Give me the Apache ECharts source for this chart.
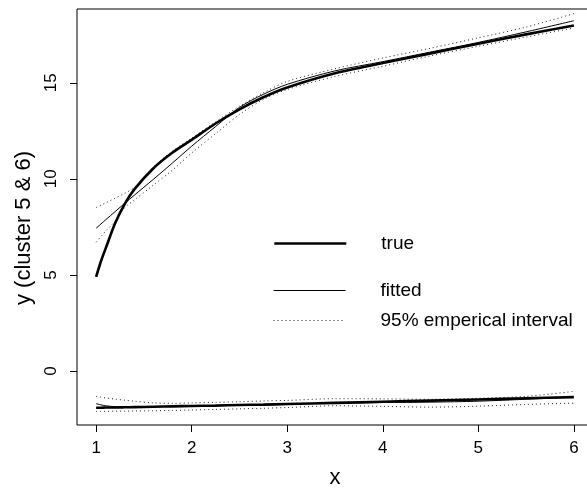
<!DOCTYPE html>
<html>
<head>
<meta charset="utf-8">
<script src="https://cdn.jsdelivr.net/npm/echarts@6/dist/echarts.min.js"></script>
<style>
  html, body { margin: 0; padding: 0; background: #fff; }
  #chart { width: 587px; height: 488px; }
</style>
</head>
<body>
<div id="chart"></div>
<script>
// x positions shared by every curve
const xs = [1, 1.05, 1.1, 1.2, 1.3, 1.4, 1.6, 1.8, 2, 2.25, 2.5, 2.75, 3, 3.5, 4, 4.5, 5, 5.5, 6];

// cluster 5 (upper group)
const trueUpper   = [4.9, 5.7, 6.38, 7.7, 8.7, 9.45, 10.55, 11.37, 12.03, 12.88, 13.62, 14.25, 14.76, 15.5, 16.03, 16.53, 17.03, 17.52, 17.98];
const fittedUpper = [7.43, 7.65, 7.87, 8.3, 8.73, 9.15, 9.98, 10.83, 11.7, 12.72, 13.72, 14.4, 14.92, 15.62, 16.1, 16.6, 17.1, 17.65, 18.23];
const hiUpper     = [8.51, 8.63, 8.75, 9.0, 9.25, 9.55, 10.62, 11.45, 12.12, 12.97, 13.78, 14.48, 15.07, 15.73, 16.29, 16.8, 17.34, 17.9, 18.6];
const loUpper     = [6.7, 7.0, 7.28, 7.8, 8.5, 8.9, 9.68, 10.46, 11.35, 12.35, 13.35, 14.13, 14.65, 15.33, 15.86, 16.4, 16.9, 17.38, 17.85];

// cluster 6 (lower group)
const trueLower   = [-1.91, -1.91, -1.9, -1.9, -1.89, -1.88, -1.86, -1.84, -1.82, -1.8, -1.77, -1.75, -1.72, -1.66, -1.6, -1.54, -1.48, -1.42, -1.36];
const fittedLower = [-1.7, -1.76, -1.81, -1.86, -1.88, -1.88, -1.86, -1.84, -1.82, -1.8, -1.77, -1.75, -1.72, -1.67, -1.64, -1.62, -1.57, -1.47, -1.36];
const hiLower     = [-1.32, -1.36, -1.4, -1.46, -1.52, -1.57, -1.66, -1.68, -1.66, -1.63, -1.6, -1.56, -1.53, -1.44, -1.45, -1.47, -1.42, -1.32, -1.06];
const loLower     = [-2.1, -2.1, -2.1, -2.09, -2.09, -2.08, -2.07, -2.05, -2.03, -2.0, -1.97, -1.94, -1.9, -1.81, -1.84, -1.88, -1.83, -1.74, -1.67];

// axis ticks
const xTicks = [1, 2, 3, 4, 5, 6];
const yTicks = [0, 5, 10, 15];

const legendNames = ['true', 'fitted', '95% emperical interval'];

const FONT = 'Liberation Sans, Arial, Helvetica, sans-serif';
const pairs = ys => xs.map((x, i) => [x, ys[i]]);

const styles = {
  'true': { color: '#000', width: 2.6, type: 'solid' },
  'fitted': { color: '#000', width: 1, type: 'solid' },
  '95% emperical interval': { color: '#222', width: 1, type: [1, 3] }
};

function curve(name, ys) {
  return {
    type: 'line',
    name: name,
    data: pairs(ys),
    symbol: 'none',
    smooth: 0.3,
    silent: true,
    lineStyle: styles[name],
    itemStyle: { color: styles[name].color },
    z: name === 'true' ? 3 : 2
  };
}

const legendTops = [244, 291, 321];
const legends = legendNames.map((n, i) => ({
  data: [n],
  left: 273,
  top: legendTops[i] - 10,
  padding: 0,
  itemWidth: 72,
  itemHeight: 20,
  selectedMode: false,
  itemStyle: { opacity: 0 },
  lineStyle: {
    color: styles[n].color,
    width: styles[n].width,
    type: styles[n].type
  },
  textStyle: { fontFamily: FONT, fontSize: 19, color: '#000', padding: [0, 0, 0, 30] }
}));

const chart = echarts.init(document.getElementById('chart'), null, { renderer: 'canvas' });
chart.setOption({
  animation: false,
  backgroundColor: '#fff',
  grid: {
    left: 77, right: -6, top: 9, bottom: 63,
    outerBoundsMode: 'none',
    containLabel: false,
    show: true, borderColor: '#000', borderWidth: 1, backgroundColor: 'transparent'
  },
  legend: legends,
  xAxis: {
    type: 'value',
    min: 0.8, max: 6.2,
    name: 'x',
    nameLocation: 'middle',
    nameGap: 42,
    nameTextStyle: { fontFamily: FONT, fontSize: 22, color: '#000' },
    axisLine: { show: false, onZero: false },
    splitLine: { show: false },
    axisTick: { show: true, length: 7, lineStyle: { color: '#000' }, customValues: xTicks },
    axisLabel: { fontFamily: FONT, fontSize: 17, color: '#000', margin: 15, customValues: xTicks }
  },
  yAxis: {
    type: 'value',
    min: -2.81, max: 18.84,
    name: 'y (cluster 5 & 6)',
    nameLocation: 'middle',
    nameGap: 42,
    nameTextStyle: { fontFamily: FONT, fontSize: 22, color: '#000', padding: [0, 22, 0, 0] },
    axisLine: { show: false, onZero: false },
    splitLine: { show: false },
    axisTick: { show: true, length: 7, lineStyle: { color: '#000' }, customValues: yTicks },
    axisLabel: { fontFamily: FONT, fontSize: 17, color: '#000', margin: 17, rotate: 90, customValues: yTicks }
  },
  series: [
    curve('95% emperical interval', hiUpper),
    curve('95% emperical interval', loUpper),
    curve('95% emperical interval', hiLower),
    curve('95% emperical interval', loLower),
    curve('fitted', fittedUpper),
    curve('fitted', fittedLower),
    curve('true', trueUpper),
    curve('true', trueLower)
  ]
});
</script>
</body>
</html>
